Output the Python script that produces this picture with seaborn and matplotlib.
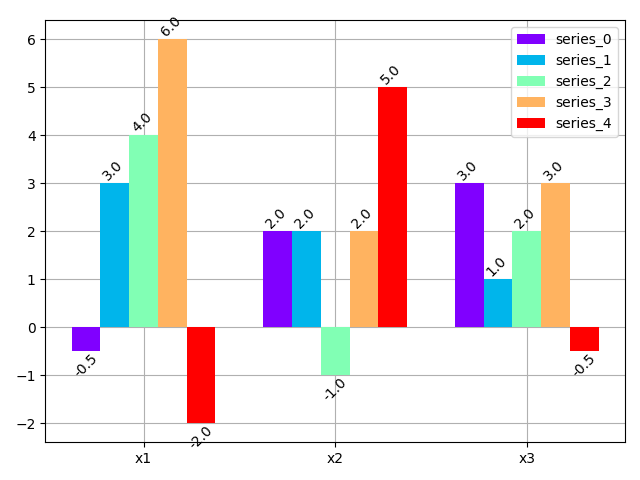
import numpy as np
import pandas as pd
import matplotlib
matplotlib.use('Agg')
import matplotlib.pyplot as plt
import seaborn as sns

categories = ['x1', 'x2', 'x3']
series_names = ['series_0', 'series_1', 'series_2', 'series_3', 'series_4']
series_0 = [-0.5, 2.0, 3.0]
series_1 = [3.0, 2.0, 1.0]
series_2 = [4.0, -1.0, 2.0]
series_3 = [6.0, 2.0, 3.0]
series_4 = [-2.0, 5.0, -0.5]

values = [series_0, series_1, series_2, series_3, series_4]
rows = []
for name, vals in zip(series_names, values):
    for cat, v in zip(categories, vals):
        rows.append({'x': cat, 'y': v, 'series': name})
df = pd.DataFrame(rows)

colors = [plt.cm.rainbow(i / 4) for i in range(5)]

fig, ax = plt.subplots(figsize=(6.4, 4.8), dpi=100)
sns.barplot(data=df, x='x', y='y', hue='series', palette=colors, width=0.75,
            saturation=1, ax=ax, errorbar=None)
ax.set_axisbelow(True)
ax.grid(True, color='#b0b0b0')
ax.xaxis.grid(True, color='#b0b0b0')

# value labels at the left corner of each bar
for bar in ax.patches:
    h = bar.get_height()
    if bar.get_width() == 0:
        continue
    ax.text(bar.get_x(), h, f'{h:.1f}', rotation=45, ha='left',
            va='bottom' if h >= 0 else 'top', fontsize=10)

ax.set_xlim(-0.5125, 2.5125)
ax.set_ylim(-2.4, 6.4)
ax.set_xlabel('')
ax.set_ylabel('')
for s in ax.spines.values():
    s.set_visible(True)
ax.legend(loc='upper right')
fig.subplots_adjust(left=0.0708, right=0.9766, top=0.9583, bottom=0.0785)
fig.savefig('out.png', dpi=100)
